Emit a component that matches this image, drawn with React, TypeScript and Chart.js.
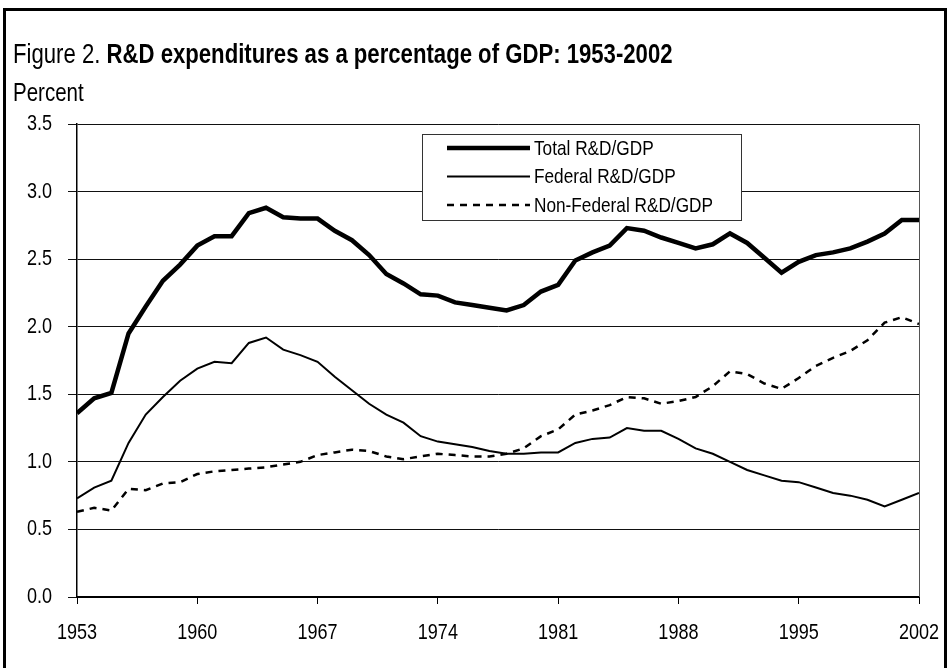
import React, { useEffect, useRef } from "react";
import { Chart, registerables } from "chart.js";

Chart.register(...registerables);

const FONT = '"Liberation Sans", Arial, sans-serif';
const NARROW = 0.82; // emulate a narrow face by horizontal scaling

const years = [
  1953, 1954, 1955, 1956, 1957, 1958, 1959, 1960, 1961, 1962,
  1963, 1964, 1965, 1966, 1967, 1968, 1969, 1970, 1971, 1972,
  1973, 1974, 1975, 1976, 1977, 1978, 1979, 1980, 1981, 1982,
  1983, 1984, 1985, 1986, 1987, 1988, 1989, 1990, 1991, 1992,
  1993, 1994, 1995, 1996, 1997, 1998, 1999, 2000, 2001, 2002,
];

const totalRD = [
  1.36, 1.47, 1.51, 1.95, 2.15, 2.34, 2.46, 2.6, 2.67, 2.67,
  2.84, 2.88, 2.81, 2.8, 2.8, 2.71, 2.64, 2.53, 2.39, 2.32,
  2.24, 2.23, 2.18, 2.16, 2.14, 2.12, 2.16, 2.26, 2.31, 2.49,
  2.55, 2.6, 2.73, 2.71, 2.66, 2.62, 2.58, 2.61, 2.69, 2.62,
  2.51, 2.4, 2.48, 2.53, 2.55, 2.58, 2.63, 2.69, 2.79, 2.79,
];

const federalRD = [
  0.73, 0.81, 0.86, 1.14, 1.35, 1.48, 1.6, 1.69, 1.74, 1.73,
  1.88, 1.92, 1.83, 1.79, 1.74, 1.63, 1.53, 1.43, 1.35, 1.29,
  1.19, 1.15, 1.13, 1.11, 1.08, 1.06, 1.06, 1.07, 1.07, 1.14,
  1.17, 1.18, 1.25, 1.23, 1.23, 1.17, 1.1, 1.06, 1.0, 0.94,
  0.9, 0.86, 0.85, 0.81, 0.77, 0.75, 0.72, 0.67, 0.72, 0.77,
];

const nonFederalRD = [
  0.63, 0.66, 0.64, 0.8, 0.79, 0.84, 0.85, 0.91, 0.93, 0.94,
  0.95, 0.96, 0.98, 1.0, 1.05, 1.07, 1.09, 1.08, 1.04, 1.02,
  1.04, 1.06, 1.05, 1.04, 1.04, 1.06, 1.1, 1.19, 1.24, 1.35,
  1.38, 1.42, 1.48, 1.47, 1.43, 1.45, 1.48, 1.56, 1.67, 1.65,
  1.58, 1.54, 1.62, 1.71, 1.77, 1.82, 1.9, 2.03, 2.07, 2.02,
];

const seriesLabels = ["Total R&D/GDP", "Federal R&D/GDP", "Non-Federal R&D/GDP"];
const xTickValues = [1953, 1960, 1967, 1974, 1981, 1988, 1995, 2002];
const yTickValues = [0, 0.5, 1.0, 1.5, 2.0, 2.5, 3.0, 3.5];

const toPoints = (vals: number[]) => vals.map((v, i) => ({ x: years[i], y: v }));

function narrowText(ctx: any, text: string, x: number, y: number, align: string, size: number) {
  ctx.save();
  ctx.translate(x, y);
  ctx.scale(NARROW, 1);
  ctx.font = `${size}px ${FONT}`;
  ctx.textAlign = align;
  ctx.textBaseline = "middle";
  ctx.fillStyle = "#000";
  ctx.fillText(text, 0, 0);
  ctx.restore();
}

const customDraw = {
  id: "customDraw",
  afterDraw(chart: any) {
    const { ctx, chartArea, scales } = chart;
    ctx.save();
    // right border of the plot area
    ctx.strokeStyle = "#555";
    ctx.lineWidth = 1;
    ctx.beginPath();
    ctx.moveTo(Math.round(chartArea.right) + 0.5, chartArea.top);
    ctx.lineTo(Math.round(chartArea.right) + 0.5, chartArea.bottom);
    ctx.stroke();

    // tick labels
    yTickValues.forEach((v) => {
      const py = scales.y.getPixelForValue(v);
      narrowText(ctx, v.toFixed(1), chartArea.left - 25, py, "right", 22);
    });
    xTickValues.forEach((v) => {
      const px = scales.x.getPixelForValue(v);
      narrowText(ctx, String(v), px, chartArea.bottom + 36, "center", 22);
    });

    // legend box inside the plot
    const x0 = Math.round(chartArea.left + 345);
    const y0 = Math.round(chartArea.top + 10);
    const w = 319;
    const h = 86;
    ctx.fillStyle = "#fff";
    ctx.fillRect(x0, y0, w, h);
    ctx.strokeStyle = "#333";
    ctx.lineWidth = 1;
    ctx.strokeRect(x0 + 0.5, y0 + 0.5, w, h);
    chart.data.datasets.forEach((ds: any, i: number) => {
      const y = y0 + 14 + i * 28.5;
      ctx.beginPath();
      ctx.setLineDash(ds.borderDash || []);
      ctx.lineWidth = ds.borderWidth;
      ctx.strokeStyle = ds.borderColor;
      ctx.lineCap = "butt";
      ctx.moveTo(x0 + 25, y);
      ctx.lineTo(x0 + 108, y);
      ctx.stroke();
      ctx.setLineDash([]);
      narrowText(ctx, ds.label, x0 + 112, y + 1, "left", 21);
    });
    ctx.restore();
  },
};

export default function App() {
  const canvasRef = useRef<HTMLCanvasElement | null>(null);

  useEffect(() => {
    if (!canvasRef.current) return;
    Chart.defaults.font.family = FONT;
    const chart = new Chart(canvasRef.current, {
      type: "line",
      data: {
        datasets: [
          {
            label: seriesLabels[0],
            data: toPoints(totalRD),
            borderColor: "#000",
            borderWidth: 4.5,
            pointRadius: 0,
            tension: 0,
            fill: false,
          },
          {
            label: seriesLabels[1],
            data: toPoints(federalRD),
            borderColor: "#000",
            borderWidth: 2,
            pointRadius: 0,
            tension: 0,
            fill: false,
          },
          {
            label: seriesLabels[2],
            data: toPoints(nonFederalRD),
            borderColor: "#000",
            borderWidth: 2.5,
            borderDash: [7, 6],
            pointRadius: 0,
            tension: 0,
            fill: false,
          },
        ],
      },
      options: {
        animation: false,
        responsive: false,
        devicePixelRatio: 1,
        layout: { padding: { top: 124, right: 29, left: 0, bottom: 0 } },
        plugins: {
          legend: { display: false },
          title: { display: false },
          tooltip: { enabled: false },
        },
        scales: {
          x: {
            type: "linear",
            min: 1953,
            max: 2002,
            afterBuildTicks: (s: any) => {
              s.ticks = xTickValues.map((v) => ({ value: v }));
            },
            afterFit: (s: any) => {
              s.height = 71;
              s.paddingLeft = 0;
              s.paddingRight = 0;
            },
            ticks: { display: false },
            grid: {
              drawOnChartArea: false,
              drawTicks: true,
              tickLength: 7,
              color: "#000",
              lineWidth: 1,
            },
            border: { color: "#000", width: 2 },
          },
          y: {
            type: "linear",
            min: 0,
            max: 3.5,
            afterBuildTicks: (s: any) => {
              s.ticks = yTickValues.map((v) => ({ value: v }));
            },
            afterFit: (s: any) => {
              s.width = 77;
              s.paddingTop = 0;
              s.paddingBottom = 0;
            },
            ticks: { display: false },
            grid: {
              color: "#111",
              lineWidth: 1,
              tickLength: 9,
            },
            border: { color: "#000", width: 1.5 },
          },
        },
      },
      plugins: [customDraw],
    });
    return () => chart.destroy();
  }, []);

  const narrowSpan: React.CSSProperties = {
    display: "inline-block",
    transform: `scaleX(${NARROW})`,
    transformOrigin: "left center",
  };

  return (
    <div
      style={{
        position: "absolute",
        left: 0,
        top: 0,
        width: 948,
        height: 668,
        overflow: "hidden",
        background: "#fff",
        fontFamily: FONT,
        color: "#000",
      }}
    >
      <div
        style={{
          position: "absolute",
          left: 3,
          top: 8,
          width: 938,
          height: 657,
          borderLeft: "3px solid #000",
          borderTop: "3px solid #000",
          borderRight: "3px solid #000",
        }}
      />
      <canvas
        ref={canvasRef}
        width={948}
        height={668}
        style={{ position: "absolute", left: 0, top: 0, width: 948, height: 668 }}
      />
      <div
        style={{
          position: "absolute",
          left: 13,
          top: 39,
          fontSize: 27,
          lineHeight: "30px",
          whiteSpace: "nowrap",
        }}
      >
        <span style={narrowSpan}>
          Figure 2. <b>R&amp;D expenditures as a percentage of GDP: 1953-2002</b>
        </span>
      </div>
      <div
        style={{
          position: "absolute",
          left: 13,
          top: 78,
          fontSize: 25,
          lineHeight: "28px",
          whiteSpace: "nowrap",
        }}
      >
        <span style={narrowSpan}>Percent</span>
      </div>
    </div>
  );
}
